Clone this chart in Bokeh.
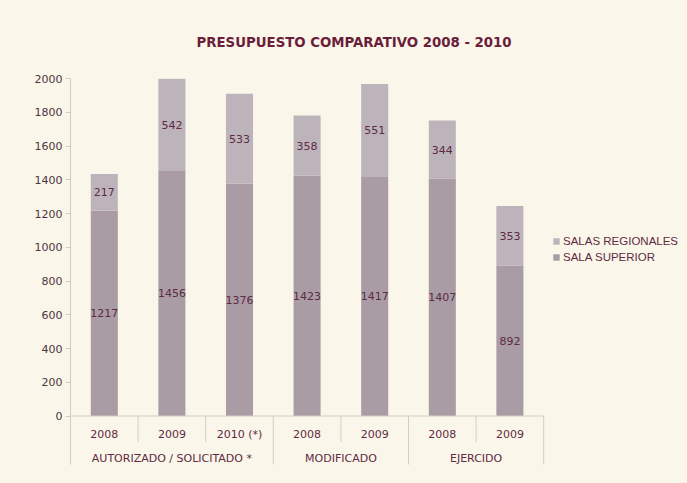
import numpy as np
from bokeh.plotting import figure
from bokeh.models import ColumnDataSource, Legend, LegendItem, FixedTicker, Range1d
from bokeh.embed import file_html
from bokeh.resources import INLINE
from bokeh.core.properties import value

# ---------------- data ----------------
years = ["2008", "2009", "2010 (*)", "2008", "2009", "2008", "2009"]
group_names = ["AUTORIZADO / SOLICITADO *", "MODIFICADO", "EJERCIDO"]
group_sizes = [3, 2, 2]
sala_superior = [1217, 1456, 1376, 1423, 1417, 1407, 892]
salas_regionales = [217, 542, 533, 358, 551, 344, 353]
y_ticks = [0, 200, 400, 600, 800, 1000, 1200, 1400, 1600, 1800, 2000]
title_text = "PRESUPUESTO COMPARATIVO 2008 - 2010"
legend_labels = ["SALAS REGIONALES", "SALA SUPERIOR"]

# ---------------- styling / geometry ----------------
BG = "#faf6e9"
C_SUP = "#a99ca4"
C_REG = "#bdb4bb"
AXIS_C = "#d6cdc0"
TXT = "#5e2a44"
TITLE_C = "#6a1e3c"
TICK_TXT = "#4d3540"

W, H = 687, 483
border_left, border_right, border_top, border_bottom = 70, 5, 78, 19
px_per_cat = 67.6
px_per_unit = 337.5 / 2000.0
frame_h = H - border_top - border_bottom
y_end = max(y_ticks)
y_start = y_end - frame_h / px_per_unit
x_end = (W - border_left - border_right) / px_per_cat

def y_from_px(px_below_zero):
    return -px_below_zero / px_per_unit

n = len(years)
x = np.arange(n) + 0.5
src = ColumnDataSource(dict(x=x, sup=sala_superior, reg=salas_regionales))

p = figure(width=W, height=H, output_backend="svg", toolbar_location=None,
           x_range=Range1d(0, x_end), y_range=Range1d(y_start, y_end),
           x_axis_location=None, title=title_text,
           min_border_left=border_left, min_border_right=border_right,
           min_border_top=border_top, min_border_bottom=border_bottom)
p.background_fill_color = BG
p.border_fill_color = BG
p.outline_line_color = None
p.xgrid.grid_line_color = None
p.ygrid.grid_line_color = None

p.title.text_font = "DejaVu Sans Condensed"
p.title.text_font_size = "14.8px"
p.title.text_font_style = "bold"
p.title.text_color = TITLE_C
p.title.align = "left"
p.title.offset = 126
p.title.standoff = 58

yax = p.yaxis[0]
yax.ticker = FixedTicker(ticks=y_ticks)
yax.axis_line_color = AXIS_C
yax.major_tick_line_color = AXIS_C
yax.major_tick_in = 0
yax.major_tick_out = 5
yax.minor_tick_line_color = None
yax.major_label_standoff = 3
yax.major_label_text_font = "DejaVu Sans"
yax.major_label_text_font_size = "11px"
yax.major_label_text_color = TICK_TXT

rs = p.vbar_stack(["sup", "reg"], x="x", width=0.4, source=src,
                  color=[C_SUP, C_REG], line_color=None)

# x axis line and category separators
p.segment(x0=[0], y0=[0], x1=[n], y1=[0], line_color=AXIS_C, line_width=1)
group_edges = [0] + list(np.cumsum(group_sizes))
year_sep = [i for i in range(1, n) if i not in group_edges]
p.segment(x0=year_sep, y0=[0] * len(year_sep), x1=year_sep,
          y1=[y_from_px(26)] * len(year_sep), line_color=AXIS_C, line_width=1)
p.segment(x0=group_edges, y0=[0] * len(group_edges), x1=group_edges,
          y1=[y_from_px(49)] * len(group_edges), line_color=AXIS_C, line_width=1)

# category labels
p.text(x=list(x), y=[y_from_px(18)] * n, text=years, text_font=value("DejaVu Sans"),
       text_font_size="11px", text_color=TXT, text_align="center", text_baseline="middle")
gcent = [(group_edges[i] + group_edges[i + 1]) / 2 for i in range(len(group_names))]
p.text(x=gcent, y=[y_from_px(42)] * len(gcent), text=group_names, text_font=value("DejaVu Sans"),
       text_font_size="11px", text_color=TXT, text_align="center", text_baseline="middle")

# data labels
sup_y = [v / 2 for v in sala_superior]
reg_y = [s + r / 2 for s, r in zip(sala_superior, salas_regionales)]
p.text(x=list(x), y=sup_y, text=[str(v) for v in sala_superior], text_font=value("DejaVu Sans"),
       text_font_size="11px", text_color=TXT, text_align="center", text_baseline="middle")
p.text(x=list(x), y=reg_y, text=[str(v) for v in salas_regionales], text_font=value("DejaVu Sans"),
       text_font_size="11px", text_color=TXT, text_align="center", text_baseline="middle")

legend = Legend(items=[LegendItem(label=legend_labels[0], renderers=[rs[1]]),
                       LegendItem(label=legend_labels[1], renderers=[rs[0]])],
                location=(482, 199))
legend.background_fill_alpha = 0
legend.border_line_color = None
legend.padding = 0
legend.margin = 0
legend.spacing = 0
legend.glyph_width = 8
legend.glyph_height = 8
legend.label_height = 16
legend.label_standoff = 3
legend.label_text_font = "Liberation Sans"
legend.label_text_font_size = "11.5px"
legend.label_text_color = TXT
p.add_layout(legend)

html = file_html(p, INLINE)
html = html.replace("</head>", "<style>html,body{background:%s;}</style></head>" % BG, 1)
open("out.html", "w").write(html)
